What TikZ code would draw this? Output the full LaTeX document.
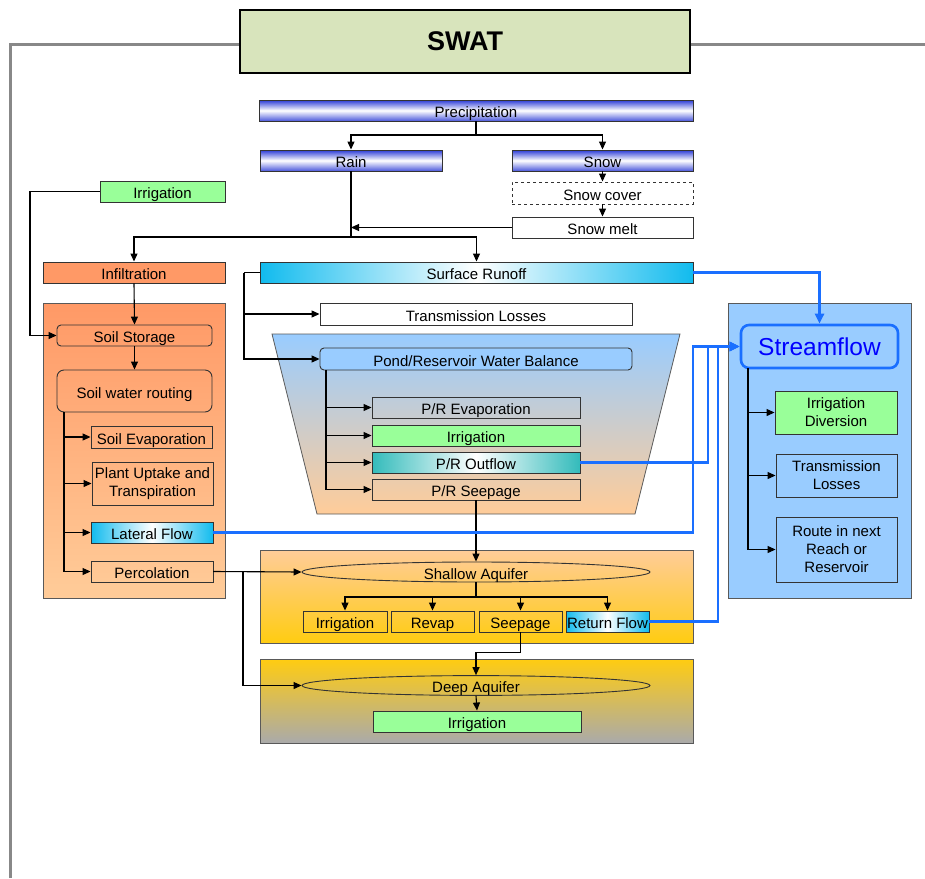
\documentclass[tikz,border=0pt]{standalone}
\usepackage{fontspec}
\setmainfont{Liberation Sans}
\usetikzlibrary{arrows.meta,shapes.geometric}
\definecolor{titlegreen}{HTML}{D8E4BC}
\definecolor{precipblue}{HTML}{2B3BD6}
\definecolor{irrgreen}{HTML}{99FF99}
\definecolor{orangeA}{HTML}{FF9966}
\definecolor{orangeB}{HTML}{FFCC99}
\definecolor{cyanA}{HTML}{11BBEE}
\definecolor{tealA}{HTML}{33BBBB}
\definecolor{pondtop}{HTML}{99CCFF}
\definecolor{pondbot}{HTML}{FFCC99}
\definecolor{goldA}{HTML}{FFCC11}
\definecolor{grayA}{HTML}{AAAAAA}
\definecolor{flowblue}{HTML}{1A6FFF}
\definecolor{streamtext}{HTML}{0000FF}
\definecolor{framegray}{HTML}{888888}
\newcommand\swatbody{\fontsize{15}{18}\selectfont}
\begin{document}
\begin{tikzpicture}[x=1pt,y=-1pt,
  mbox/.style={draw=black!80, line width=0.9pt, inner sep=0pt, align=center, font=\swatbody},
  box/.style={mbox, text height=14pt, text depth=0pt},
  rbox/.style={box, rounded corners=4pt},
  aq/.style={ellipse, draw=black!80, line width=0.9pt, inner sep=0pt, minimum width=348pt, font=\swatbody, text height=14pt, text depth=0pt},
  container/.style={draw=black!65, line width=0.8pt, inner sep=0pt},
  bluegrad/.style={top color=precipblue, bottom color=precipblue!85, middle color=white},
  cyangrad/.style={left color=cyanA, right color=cyanA, middle color=white},
  tealgrad/.style={left color=tealA, right color=tealA, middle color=white},
  arr/.style={-{Triangle[length=8pt,width=7pt]}, line width=1.1pt},
  ln/.style={line width=1.1pt},
  barr/.style={-{Triangle[length=10pt,width=9pt]}, line width=2.4pt, draw=flowblue},
  frame/.style={line width=3pt, draw=framegray}
]
\useasboundingbox (0,0) rectangle (925,878);

% frame lines
\draw[frame] (10,878) -- (10,44) -- (240,44);
\draw[frame] (690,44) -- (925,44);

% title
\node[mbox, fill=titlegreen, draw=black, line width=2.2pt, minimum width=450pt, minimum height=63pt, font=\fontsize{27}{30}\selectfont\bfseries] (title) at (465,41.5) {SWAT};

% containers
\node[container, top color=orangeA, bottom color=orangeB, minimum width=182pt, minimum height=295pt] (leftbox) at (134,450.5) {};
\draw[container, top color=pondtop, bottom color=pondbot] (272,334) -- (680,334) -- (635,514) -- (317,514) -- cycle;
\node[container, top color=orangeB, bottom color=goldA, minimum width=433pt, minimum height=93pt] (shallowbox) at (476.5,596.5) {};
\node[container, top color=goldA, bottom color=grayA, minimum width=433pt, minimum height=84pt] (deepbox) at (476.5,701) {};
\node[container, fill=pondtop, minimum width=183pt, minimum height=295pt] (rightbox) at (819.5,450.5) {};

% precipitation
\node[box, bluegrad, minimum width=434pt, minimum height=21pt] (precip) at (476,110.5) {Precipitation};
\node[box, bluegrad, minimum width=182pt, minimum height=21pt] (rain) at (351,160.5) {Rain};
\node[box, bluegrad, minimum width=181pt, minimum height=21pt] (snow) at (602.5,160.5) {Snow};
\node[box, dashed, fill=white, minimum width=181pt, minimum height=22pt] (snowcover) at (602.5,193) {Snow cover};
\node[box, fill=white, minimum width=181pt, minimum height=21pt] (snowmelt) at (602.5,227.5) {Snow melt};

% left column
\node[box, fill=irrgreen, minimum width=125pt, minimum height=21pt] (irrtop) at (162.5,191.5) {Irrigation};
\node[box, fill=orangeA, minimum width=182pt, minimum height=21pt] (infil) at (134,272.5) {Infiltration};
\node[rbox, minimum width=155pt, minimum height=21pt] (soilstor) at (134.5,335.5) {Soil Storage};
\node[rbox, rounded corners=7pt, minimum width=155pt, minimum height=42pt] (swr) at (134.5,391) {Soil water routing};
\node[box, minimum width=121pt, minimum height=22pt] (soilevap) at (151.5,437) {Soil Evaporation};
\node[mbox, minimum width=121pt, minimum height=43pt] (plant) at (152.5,483.5) {Plant Uptake and\\Transpiration};
\node[box, cyangrad, minimum width=122pt, minimum height=21pt] (lateral) at (152,532.5) {Lateral Flow};
\node[box, minimum width=122pt, minimum height=21pt] (percol) at (152,571.5) {Percolation};

% middle
\node[box, cyangrad, minimum width=433pt, minimum height=21pt] (runoff) at (476.5,272.5) {Surface Runoff};
\node[box, fill=white, minimum width=312pt, minimum height=22pt] (transloss) at (476,314) {Transmission Losses};
\node[rbox, fill=pondtop, minimum width=312pt, minimum height=22pt] (pond) at (476,359) {Pond/Reservoir Water Balance};
\node[box, minimum width=208pt, minimum height=21pt] (prevap) at (476,407.5) {P/R Evaporation};
\node[box, fill=irrgreen, minimum width=208pt, minimum height=21pt] (prirr) at (476,435.5) {Irrigation};
\node[box, tealgrad, minimum width=208pt, minimum height=21pt] (prout) at (476,462.5) {P/R Outflow};
\node[box, minimum width=208pt, minimum height=21pt] (prseep) at (476,489.5) {P/R Seepage};

% aquifers
\node[aq, minimum height=20pt] (shallow) at (476,572) {Shallow Aquifer};
\node[box, minimum width=84pt, minimum height=21pt] (sirr) at (345,621.5) {Irrigation};
\node[box, minimum width=83pt, minimum height=21pt] (revap) at (432.5,621.5) {Revap};
\node[box, minimum width=83pt, minimum height=21pt] (seep) at (520.5,621.5) {Seepage};
\node[box, cyangrad, minimum width=83pt, minimum height=21pt] (retflow) at (607.5,621.5) {Return Flow};
\node[aq, minimum height=19pt] (deep) at (476,685.5) {Deep Aquifer};
\node[box, fill=irrgreen, minimum width=208pt, minimum height=21pt] (dirr) at (477,721.5) {Irrigation};

% right column
\node[mbox, rounded corners=8pt, fill=pondtop, draw=flowblue, line width=2.6pt, minimum width=157pt, minimum height=43pt, font=\fontsize{24.5}{27}\selectfont, text=streamtext] (stream) at (819.5,346.5) {Streamflow};
\node[mbox, fill=irrgreen, minimum width=122pt, minimum height=43pt] (irrdiv) at (836,412.5) {Irrigation\\Diversion};
\node[mbox, minimum width=121pt, minimum height=43pt] (trans2) at (836.5,475.5) {Transmission\\Losses};
\node[mbox, minimum width=121pt, minimum height=65pt] (route) at (836.5,549.5) {Route in next\\Reach or\\Reservoir};

% coordinates
\coordinate (psplit) at (476,135);
\coordinate (rsplit) at (351,237);
\coordinate (irrcorner) at (30,191.5);
\coordinate (lbranch) at (64,412);
\coordinate (rbranch) at (244,272.5);
\coordinate (pbranch) at (326,370);
\coordinate (pcorner) at (243,571.5);
\coordinate (ssplit) at (476,597);
\coordinate (sbranch) at (748,368);
\coordinate (latcorner) at (693,532.5);
\coordinate (outcorner) at (708,462.5);
\coordinate (retcorner) at (718,621.5);

% precipitation connectors
\draw[ln] (precip.south) -- (psplit);
\draw[arr] (psplit) -| (rain.north);
\draw[arr] (psplit) -| (snow.north);
\draw[arr] (snow.south) -- (snowcover.north);
\draw[arr] (snowcover.south) -- (snowmelt.north);
\draw[ln] (rain.south) -- (rsplit);
\draw[arr] (snowmelt.west) -- (rain.south |- snowmelt.west);
\draw[arr] (rsplit) -| (infil.north);
\draw[arr] (rsplit) -| (runoff.north);

% left column connectors
\draw[arr] (irrtop.west) -- (irrcorner) |- (soilstor.west);
\draw[arr] (infil.south) -- (soilstor.north);
\draw[arr] (soilstor.south) -- (swr.north);
\draw[arr] (lbranch) |- (soilevap.west);
\draw[arr] (lbranch) |- (plant.west);
\draw[arr] (lbranch) |- (lateral.west);
\draw[arr] (lbranch) |- (percol.west);
\draw[arr] (percol.east) -- (shallow.west);
\draw[arr] (percol.east) -- (pcorner) |- (deep.west);

% runoff connectors
\draw[ln] (runoff.west) -- (rbranch);
\draw[arr] (rbranch) |- (transloss.west);
\draw[arr] (rbranch) |- (pond.west);
\draw[arr] (pbranch) |- (prevap.west);
\draw[arr] (pbranch) |- (prirr.west);
\draw[arr] (pbranch) |- (prout.west);
\draw[arr] (pbranch) |- (prseep.west);
\draw[arr] (prseep.south) -- (shallow.north);

% aquifer connectors
\draw[ln] (shallow.south) -- (ssplit);
\draw[arr] (ssplit) -| (sirr.north);
\draw[arr] (ssplit) -| (revap.north);
\draw[arr] (ssplit) -| (seep.north);
\draw[arr] (ssplit) -| (retflow.north);
\draw[arr] (seep.south) -- ++(0,20) -| (deep.north);
\draw[arr] (deep.south) -- (dirr.north);

% streamflow connectors
\draw[arr] (sbranch) |- (irrdiv.west);
\draw[arr] (sbranch) |- (trans2.west);
\draw[arr] (sbranch) |- (route.west);

% blue flows
\draw[barr] (runoff.east) -| (stream.north);
\draw[barr] (lateral.east) -- (latcorner) |- (stream.west);
\draw[barr] (prout.east) -- (outcorner) |- (stream.west);
\draw[barr] (retflow.east) -- (retcorner) |- (stream.west);
\end{tikzpicture}
\end{document}
